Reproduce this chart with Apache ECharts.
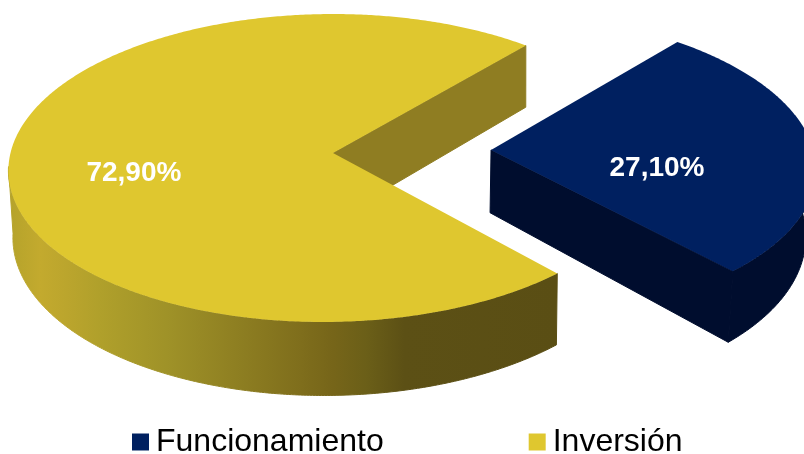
<!DOCTYPE html>
<html>
<head>
<meta charset="utf-8">
<style>html,body{margin:0;padding:0;background:#fff}#chart{width:804px;height:454px}</style>
<script src="https://cdn.jsdelivr.net/npm/echarts@6/dist/echarts.min.js"></script>
</head>
<body>
<div id="chart"></div>
<script>
// Budget split
const categories = ['Funcionamiento', 'Inversión'];
const shares = [27.1, 72.9];

// Slice colours
const topColors = ['#002060', '#DFC72F'];
const cutColors = ['#000D2E', '#8F7D22'];

// Perspective faces of each slice: upper and lower disc, skew and depth terms
const upperFaces = [
  { cx: 333, cy: 153, rx: 323, ry: 152.5, skew: -5, tilt: 0 },
  { cx: 333, cy: 153, rx: 318, ry: 152.5, skew: -4.8, tilt: 0.014 }
];
const lowerFaces = [
  { cx: 337, cy: 216, rx: 313, ry: 163, skew: 0, tilt: 0 },
  { cx: 334.5, cy: 219.3, rx: 315, ry: 159, skew: -5.1, tilt: 0.014 }
];
const perspective = 0.0974;
const firstAngle = -49.8;

// Angular range of the rim that faces the viewer
const frontFrom = -6;
const frontTo = 175;

// Per-slice layout: explode offset and label placement
const explode = [[0.49, -0.02], [0, 0]];
const labelRadius = [0.5, 0.62];
const labelShift = [[5, 20], [0, 19]];

const yellowWall = new echarts.graphic.LinearGradient(10, 0, 558, 0, [
  { offset: 0, color: '#B5A32B' },
  { offset: 0.055, color: '#C3AA2E' },
  { offset: 0.104, color: '#BBA52D' },
  { offset: 0.164, color: '#B0A02B' },
  { offset: 0.286, color: '#9F9228' },
  { offset: 0.407, color: '#8F8022' },
  { offset: 0.53, color: '#7F6E1C' },
  { offset: 0.59, color: '#766519' },
  { offset: 0.65, color: '#6B5F18' },
  { offset: 0.72, color: '#5C5015' },
  { offset: 1, color: '#5A4E14' }
], true);
const outerColors = ['#000D2E', yellowWall];

function project(face, x, y) {
  const w = 1 - perspective * y + face.tilt * x;
  return [face.cx + (face.rx * x + face.skew * y) / w, face.cy + face.ry * y / w];
}

function rimPoint(face, deg, off) {
  const t = deg * Math.PI / 180;
  return project(face, Math.cos(t) + off[0], Math.sin(t) + off[1]);
}

function arcPoints(face, from, to, off) {
  const n = Math.ceil(Math.abs(to - from) * 2);
  const pts = [];
  for (let i = 0; i <= n; i++) pts.push(rimPoint(face, from + (to - from) * i / n, off));
  return pts;
}

function renderSlice(index) {
  const total = shares.reduce((a, b) => a + b, 0);
  let from = firstAngle;
  for (let i = 0; i < index; i++) from += shares[i] / total * 360;
  return function (params, api) {
    const to = from + api.value(0) / total * 360;
    const off = explode[index];
    const upper = upperFaces[index];
    const lower = lowerFaces[index];
    const apexTop = project(upper, off[0], off[1]);
    const apexLow = project(lower, off[0], off[1]);
    const wallFrom = Math.max(from, frontFrom);
    const wallTo = Math.min(to, frontTo);
    const mid = (from + to) / 2 * Math.PI / 180;
    const lp = project(upper,
      off[0] + labelRadius[index] * Math.cos(mid),
      off[1] + labelRadius[index] * Math.sin(mid));
    return {
      type: 'group',
      children: [
        {
          type: 'polygon',
          shape: { points: [apexTop, rimPoint(upper, to, off), rimPoint(lower, to, off), apexLow] },
          style: { fill: cutColors[index], stroke: cutColors[index], lineWidth: 1 }
        },
        {
          type: 'polygon',
          shape: {
            points: arcPoints(upper, wallFrom, wallTo, off)
              .concat(arcPoints(lower, wallTo, wallFrom, off))
          },
          style: { fill: outerColors[index], stroke: outerColors[index], lineWidth: 1 }
        },
        {
          type: 'polygon',
          shape: { points: [apexTop].concat(arcPoints(upper, from, to, off)) },
          style: { fill: topColors[index] }
        },
        {
          type: 'text',
          style: {
            x: lp[0] + labelShift[index][0],
            y: lp[1] + labelShift[index][1],
            text: api.value(0).toFixed(2).replace('.', ',') + '%',
            fill: '#FFFFFF',
            font: 'bold 28px "Liberation Sans", Arial, sans-serif',
            textAlign: 'center',
            textVerticalAlign: 'middle'
          }
        }
      ]
    };
  };
}

const chart = echarts.init(document.getElementById('chart'), null, { renderer: 'canvas' });
chart.setOption({
  animation: false,
  backgroundColor: '#FFFFFF',
  legend: {
    data: categories,
    left: 127,
    top: 421,
    padding: 5,
    icon: 'rect',
    itemWidth: 17,
    itemHeight: 17,
    itemGap: 145,
    selectedMode: false,
    textStyle: {
      fontFamily: '"Liberation Sans", Arial, sans-serif',
      fontSize: 32,
      color: '#000000',
      padding: [0, 0, 0, 2]
    }
  },
  series: categories.map((name, i) => ({
    type: 'custom',
    name: name,
    coordinateSystem: 'none',
    itemStyle: { color: topColors[i] },
    renderItem: renderSlice(i),
    data: [[shares[i]]],
    silent: true
  }))
});
</script>
</body>
</html>
